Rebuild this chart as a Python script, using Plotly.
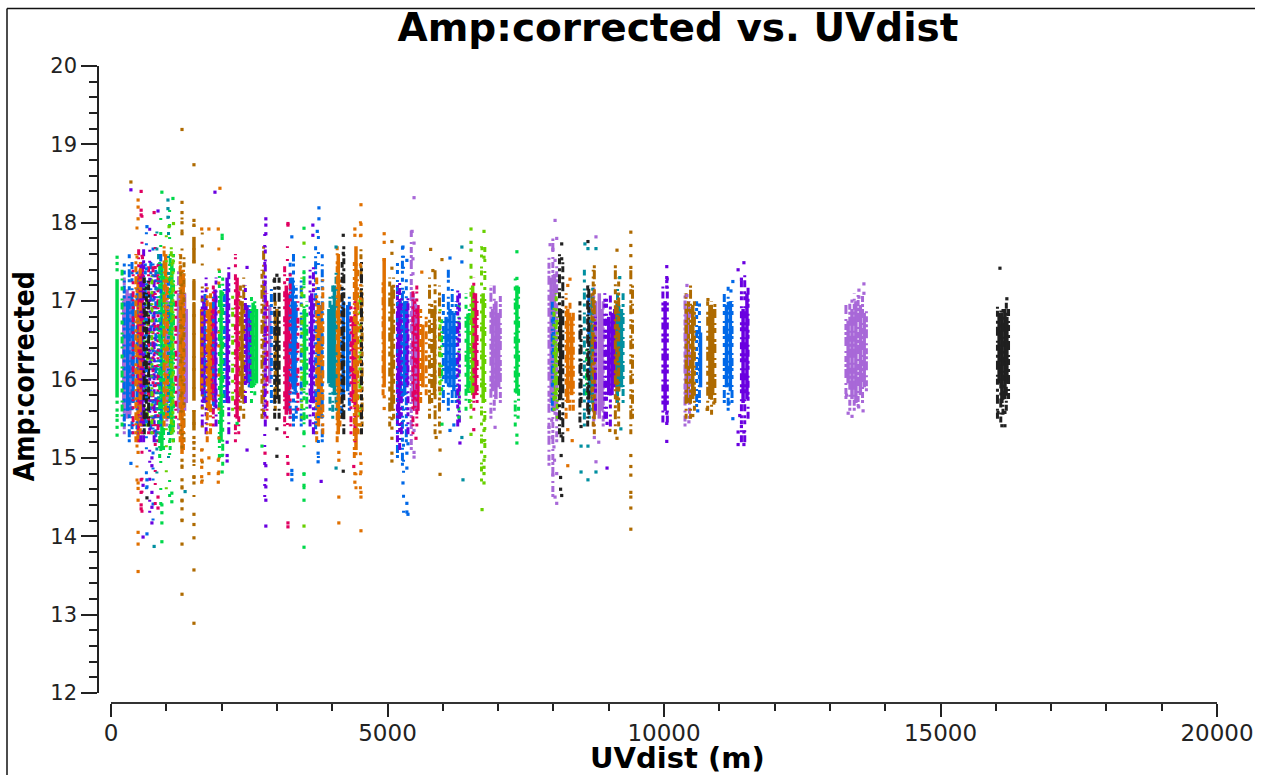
import plotly.graph_objects as go

# Solid runs of overlapping points: baseline UV distance, low amp, high amp
lavender_x = [230, 290, 340, 1000, 1030, 1060, 1220, 1250, 1330, 1360, 2790, 2870, 5460, 6900, 6960, 7010, 7960, 8020, 8760, 8830, 8880, 10400, 13330, 13400, 13470, 13550, 13620]
lavender_lo = [15.6, 15.5, 15.55, 15.8, 15.7, 15.75, 15.6, 15.6, 15.6, 15.7, 15.9, 15.95, 15.7, 15.85, 15.75, 15.9, 15.7, 15.6, 15.55, 15.5, 15.6, 15.7, 15.95, 15.75, 15.7, 15.8, 15.9]
lavender_hi = [17.0, 17.15, 17.1, 17.0, 16.9, 17.0, 17.1, 17.1, 17.1, 16.9, 17.2, 16.95, 17.1, 16.9, 17.0, 16.85, 17.3, 17.35, 17.0, 17.1, 16.9, 16.9, 16.75, 16.9, 17.0, 16.95, 16.85]

teal_x = [3940, 3990, 4040, 8680, 9180, 9230]
teal_lo = [15.95, 15.9, 15.8, 15.8, 15.85, 15.9]
teal_hi = [16.9, 16.95, 17.2, 16.7, 16.95, 16.9]

blue_x = [300, 400, 3280, 3330, 4200, 4280, 5230, 5310, 6060, 6130, 6200, 8000, 10660, 11130, 11200]
blue_lo = [15.6, 15.7, 15.9, 15.85, 15.8, 15.85, 15.75, 15.8, 15.95, 15.9, 15.85, 15.9, 15.9, 15.9, 15.85]
blue_hi = [17.0, 17.0, 17.3, 17.0, 17.0, 16.95, 17.0, 17.0, 16.8, 16.9, 16.85, 16.8, 16.6, 16.95, 17.0]

purple_x = [560, 1680, 1880, 2100, 2460, 2520, 3630, 5200, 5350, 9000, 9060, 9110, 10020, 11430, 11500]
purple_lo = [15.4, 15.7, 15.65, 15.7, 15.95, 15.9, 15.7, 15.55, 15.9, 15.8, 15.8, 15.9, 15.6, 15.7, 15.75]
purple_hi = [17.5, 17.0, 17.15, 17.3, 16.95, 16.9, 17.1, 17.0, 17.0, 16.8, 16.85, 16.9, 17.0, 16.9, 17.1]

magenta_x = [530, 1820, 2280, 3170, 3210, 4380, 5490, 5550, 6590]
magenta_lo = [15.6, 15.75, 15.5, 15.55, 15.6, 15.7, 15.6, 15.6, 15.8]
magenta_hi = [17.4, 16.9, 17.3, 17.2, 17.1, 16.8, 17.0, 16.95, 17.1]

green_x = [110, 920, 1100, 1990, 2570, 2630, 3500, 6455, 7340]
green_lo = [15.77, 15.12, 15.3, 15.22, 15.9, 15.95, 15.9, 15.83, 15.82]
green_hi = [17.28, 17.48, 17.5, 17.14, 16.98, 16.9, 16.9, 16.84, 17.2]

lime_x = [6540, 6730, 8040]
lime_lo = [15.8, 15.7, 15.75]
lime_hi = [17.2, 17.1, 16.5]

brown_x = [1500, 1500, 1500, 1500, 2370, 3000, 5080, 5850, 8700, 9150, 10440, 10520, 10830, 10880]
brown_lo = [15.73, 17.01, 17.48, 15.35, 15.75, 15.75, 15.6, 15.8, 15.7, 15.7, 15.7, 15.75, 15.75, 15.8]
brown_hi = [16.97, 17.26, 17.82, 15.61, 17.0, 16.9, 17.2, 16.9, 17.1, 17.0, 17.0, 16.95, 16.95, 16.9]

orange_x = [490, 990, 1284, 1640, 1770, 3750, 3800, 4110, 4430, 4940, 5640, 8260, 8330]
orange_lo = [15.2, 15.5, 15.05, 15.85, 15.6, 15.4, 15.5, 15.3, 15.1, 15.9, 15.9, 15.7, 15.8]
orange_hi = [17.3, 17.6, 17.35, 16.9, 16.9, 17.0, 16.95, 17.6, 17.7, 17.55, 16.7, 16.9, 16.8]

black_x = [3000, 8130, 16060, 16110, 16165, 16200]
black_lo = [15.75, 15.75, 15.95, 15.7, 15.75, 15.95]
black_hi = [16.8, 16.9, 16.85, 16.85, 16.9, 16.8]

# Speckled runs, where separate points and colours mix
spr_lavender_x = [240, 1010, 1220, 2760, 5430, 5510, 6870, 6930, 7040, 7920, 7990, 8060, 8730, 8900, 10380, 10460, 13290, 13360, 13440, 13510, 13590, 13660]
spr_lavender_lo = [15.3, 15.4, 15.3, 15.5, 15.1, 15.6, 15.5, 15.6, 15.7, 14.9, 14.5, 15.2, 15.4, 15.4, 15.4, 15.5, 15.75, 15.6, 15.6, 15.65, 15.7, 15.85]
spr_lavender_hi = [17.3, 17.3, 17.4, 17.4, 17.9, 17.1, 17.2, 17.2, 17.1, 17.6, 17.8, 17.5, 17.2, 17.0, 17.1, 17.0, 16.95, 17.0, 17.1, 17.1, 17.1, 16.9]
spr_teal_x = [3960, 4010, 4070, 8560, 8650, 8710, 9160, 9260, 860]
spr_teal_lo = [15.6, 15.5, 15.6, 15.4, 15.5, 15.6, 15.7, 15.7, 15.3]
spr_teal_hi = [17.1, 17.2, 17.4, 17.4, 17.0, 17.2, 17.2, 17.1, 17.6]
spr_blue_x = [240, 330, 380, 470, 620, 720, 810, 900, 1040, 1700, 1850, 2050, 2500, 2900, 3240, 3300, 3350, 3440, 3700, 3820, 4170, 4310, 5180, 5270, 5340, 6010, 6100, 6170, 6240, 7980, 8640, 10590, 10640, 11090, 11160, 11230]
spr_blue_lo = [15.4, 15.2, 15.3, 15.3, 15.4, 15.3, 15.2, 15.4, 15.5, 15.7, 15.6, 15.7, 15.9, 15.7, 15.5, 15.4, 15.5, 15.4, 15.3, 15.2, 15.5, 15.6, 15.0, 14.9, 15.2, 15.7, 15.6, 15.7, 15.7, 15.6, 15.7, 15.65, 15.7, 15.7, 15.6, 15.7]
spr_blue_hi = [17.5, 17.6, 17.5, 17.4, 17.5, 17.5, 17.4, 17.6, 17.3, 17.1, 17.1, 17.2, 17.0, 17.2, 17.5, 17.6, 17.2, 17.3, 17.7, 17.6, 17.2, 17.1, 17.5, 17.7, 17.3, 17.1, 17.4, 17.2, 17.0, 17.0, 17.1, 17.0, 16.9, 17.1, 17.2, 17.0]
spr_magenta_x = [400, 500, 570, 680, 760, 850, 1170, 1850, 2250, 2310, 2820, 3140, 3240, 3380, 4340, 4410, 5460, 5530, 6560, 6620]
spr_magenta_lo = [15.3, 15.2, 15.3, 15.3, 15.3, 15.2, 15.5, 15.4, 15.2, 15.3, 15.5, 15.3, 15.4, 15.6, 15.3, 15.2, 15.3, 15.4, 15.6, 15.7]
spr_magenta_hi = [17.4, 17.7, 17.6, 17.5, 17.5, 17.5, 17.2, 17.2, 17.6, 17.2, 17.1, 17.5, 17.4, 17.0, 17.0, 17.0, 17.2, 17.2, 17.3, 17.0]
spr_green_x = [200, 600, 880, 950, 1070, 1130, 1960, 2020, 2540, 2600, 3490, 3540, 5980, 6290, 6420, 6480, 7310, 7370, 8600]
spr_green_lo = [15.4, 15.3, 15.0, 15.1, 15.1, 15.2, 15.0, 14.9, 15.7, 15.8, 15.3, 15.5, 15.85, 15.6, 15.6, 15.7, 15.4, 15.6, 15.8]
spr_green_hi = [17.4, 17.3, 17.5, 17.4, 17.7, 17.6, 17.4, 17.3, 17.1, 17.0, 17.4, 17.0, 16.8, 17.0, 17.1, 17.0, 17.3, 17.2, 16.4]
spr_brown_x = [1260, 1320, 2340, 2400, 2730, 2760, 2970, 4520, 4540, 5040, 5110, 5760, 5800, 5860, 5940, 8720, 8740, 9120, 9180, 9400, 9430, 10400, 10480, 10550, 10790, 10860, 10920]
spr_brown_lo = [15.3, 15.2, 15.6, 15.5, 15.5, 15.55, 15.6, 15.3, 15.4, 15.4, 15.5, 15.5, 15.7, 15.3, 15.4, 15.4, 15.3, 15.3, 15.4, 15.3, 15.5, 15.5, 15.5, 15.6, 15.6, 15.55, 15.7]
spr_brown_hi = [17.6, 17.6, 17.2, 17.3, 17.4, 17.7, 17.0, 17.7, 17.2, 17.3, 17.3, 17.3, 17.0, 17.4, 17.2, 17.4, 17.5, 17.5, 17.3, 17.4, 17.2, 17.1, 17.2, 17.0, 17.0, 17.0, 17.0]
spr_purple_x = [540, 590, 780, 1650, 1720, 1900, 2130, 2430, 2790, 3600, 3660, 5180, 5220, 5250, 5370, 6270, 6300, 8760, 8930, 8960, 9030, 9980, 10060, 11400, 11460, 11520]
spr_purple_lo = [15.2, 15.2, 15.2, 15.4, 15.3, 15.4, 15.3, 15.7, 15.4, 15.4, 15.3, 15.2, 15.1, 15.3, 15.3, 15.4, 15.45, 15.6, 15.5, 15.5, 15.4, 15.45, 15.45, 15.2, 15.2, 15.5]
spr_purple_hi = [17.5, 17.7, 17.4, 17.2, 17.3, 17.3, 17.5, 17.2, 17.7, 17.4, 17.5, 17.2, 17.3, 17.05, 17.1, 17.2, 17.1, 16.8, 17.1, 17.05, 17.1, 17.2, 17.3, 17.3, 17.4, 17.2]
spr_lime_x = [660, 740, 1090, 1120, 2200, 3450, 4500, 5950, 6510, 6700, 6760, 8010, 8050, 8070]
spr_lime_lo = [15.4, 15.3, 15.3, 15.2, 15.6, 15.5, 15.4, 15.8, 15.5, 14.7, 15.0, 15.6, 15.8, 15.5]
spr_lime_hi = [17.3, 17.4, 17.8, 17.6, 17.1, 17.3, 17.1, 16.9, 17.5, 17.7, 17.7, 17.0, 17.1, 16.8]
spr_orange_x = [450, 530, 960, 1020, 1250, 1310, 1740, 1800, 3720, 3830, 4090, 4140, 4400, 4460, 4920, 5600, 5700, 8230, 8300, 8360]
spr_orange_lo = [15.2, 15.3, 15.4, 15.5, 15.2, 15.1, 15.2, 15.3, 15.2, 15.3, 15.2, 15.4, 15.0, 15.3, 15.8, 15.7, 15.8, 15.5, 15.6, 15.6]
spr_orange_hi = [17.6, 17.5, 17.7, 17.4, 17.6, 17.4, 17.2, 17.1, 17.3, 17.3, 17.7, 17.3, 17.5, 17.4, 17.3, 16.9, 16.8, 17.1, 17.0, 16.9]
spr_black_x = [600, 640, 680, 2960, 3040, 4180, 4210, 4530, 8110, 8170, 8480, 8500, 8620, 8640, 16030, 16090, 16130, 16190, 16230]
spr_black_lo = [15.3, 15.5, 15.4, 15.5, 15.5, 15.5, 15.3, 15.3, 15.3, 15.2, 15.45, 15.7, 15.4, 15.55, 15.5, 15.45, 15.55, 15.6, 15.75]
spr_black_hi = [17.3, 17.2, 17.3, 17.3, 17.3, 17.5, 17.7, 17.5, 17.6, 17.5, 17.0, 16.7, 17.2, 17.2, 16.95, 16.9, 16.9, 17.0, 16.9]

# Thin scatter reaching far from the main band
far_blue_x = [640, 760, 3750, 5290]
far_blue_lo = [14.6, 14.2, 15.0, 14.3]
far_blue_hi = [18.0, 17.9, 18.0, 17.7]
far_magenta_x = [560, 800, 3190]
far_magenta_lo = [14.3, 14.4, 15.0]
far_magenta_hi = [18.1, 17.9, 17.7]
far_purple_x = [700, 2780]
far_purple_lo = [14.3, 14.5]
far_purple_hi = [18.0, 17.9]
far_green_x = [900, 1060, 3490]
far_green_lo = [14.4, 14.5, 14.6]
far_green_hi = [18.1, 18.2, 17.8]
far_teal_x = [830, 1040]
far_teal_lo = [14.8, 15.0]
far_teal_hi = [18.0, 18.2]
far_lime_x = [1000]
far_lime_lo = [14.6]
far_lime_hi = [17.9]
far_orange_x = [470, 1950, 4430, 4510]
far_orange_lo = [14.7, 14.8, 14.6, 14.6]
far_orange_hi = [18.0, 17.9, 17.7, 18.1]
far_brown_x = [1284, 1500, 1650]
far_brown_lo = [14.2, 14.5, 14.7]
far_brown_hi = [18.2, 18.0, 17.9]

# Separate points above and below the main band
pt_brown_x = [1284, 1500, 360, 1284, 1500, 1500, 1284, 1500, 1500, 1500, 1284, 1284, 1284, 1284, 1284, 1284, 1284, 1500, 1500, 1500, 1500, 1500, 1500, 1500, 1284, 1284, 1284, 1284, 1500, 1500, 5080, 5080, 5080, 5080, 5080, 5080, 5080, 5080, 5780, 5985, 5950, 5950, 5880, 5950, 9400, 9400, 9400, 9400, 9400, 9400, 9400, 9400, 9400, 9400, 9400, 9150, 9150, 9020, 5820, 10520, 10795, 10900, 10780]
pt_brown_y = [19.19, 18.74, 18.52, 13.26, 12.89, 13.57, 13.9, 13.98, 14.15, 14.28, 14.2, 14.35, 14.46, 14.63, 14.72, 14.88, 14.97, 14.68, 14.76, 14.96, 15.03, 15.12, 15.19, 15.26, 18.26, 18.13, 18.0, 17.86, 18.03, 17.97, 17.76, 17.61, 17.42, 15.5, 15.38, 15.25, 15.06, 14.96, 17.66, 17.53, 14.79, 15.1, 15.26, 15.33, 17.88, 17.71, 17.58, 17.43, 14.09, 14.36, 14.5, 14.56, 14.78, 14.89, 15.03, 17.65, 15.25, 15.35, 17.39, 15.54, 17.02, 15.7, 15.62]
pt_orange_x = [490, 490, 490, 490, 490, 490, 490, 490, 490, 490, 1970, 1640, 1770, 1940, 1640, 1770, 1770, 1640, 1640, 1640, 1640, 1940, 1940, 1940, 4120, 4120, 4120, 4120, 4520, 4520, 4520, 4410, 4410, 4520, 4520, 4520, 4520, 4520, 4410, 4410, 4940, 4940, 4940, 4940, 4940, 5620, 8260, 8340, 8260, 8300, 8260]
pt_orange_y = [13.55, 13.9, 14.05, 14.46, 14.61, 14.68, 15.07, 18.29, 18.2, 18.05, 18.44, 17.92, 17.92, 17.92, 15.1, 15.0, 14.8, 14.97, 14.88, 14.76, 14.69, 14.97, 14.8, 14.69, 14.17, 14.5, 14.97, 15.07, 14.07, 14.5, 14.56, 14.69, 14.8, 14.82, 14.93, 18.23, 17.98, 17.84, 17.92, 17.84, 17.75, 17.53, 17.86, 15.78, 15.63, 17.37, 14.9, 15.22, 15.36, 17.28, 17.2]
pt_magenta_x = [545, 545, 545, 3200, 3200, 3200, 3200, 3200, 3200, 545, 545, 545, 545, 850, 850, 780, 4390, 2785, 5515, 6560]
pt_magenta_y = [18.4, 18.16, 18.1, 17.99, 17.97, 14.17, 14.12, 14.93, 14.79, 14.4, 14.35, 14.56, 14.72, 14.5, 14.36, 18.13, 14.89, 15.06, 15.25, 15.36]
pt_purple_x = [360, 1880, 850, 580, 740, 580, 740, 740, 740, 740, 2800, 2800, 2800, 2800, 2800, 2800, 2800, 2800, 3650, 3650, 3800, 2460, 2460, 2100, 2100, 2100, 6310, 8970, 8970, 10050, 10050, 10050, 10050, 10050, 10050, 10050, 10050, 11445, 11340, 11400, 11445, 11340, 11445, 11340, 11400, 11370]
pt_purple_y = [18.42, 18.39, 18.15, 13.99, 14.17, 14.65, 15.0, 14.9, 14.56, 14.37, 18.05, 17.97, 17.86, 14.13, 14.46, 14.63, 14.72, 14.9, 17.97, 17.84, 14.7, 15.1, 17.43, 15.03, 14.96, 15.2, 15.19, 14.87, 15.44, 17.44, 17.3, 17.25, 17.18, 15.21, 15.44, 15.57, 15.7, 17.49, 17.4, 17.28, 15.17, 15.17, 15.33, 15.33, 15.4, 15.54]
pt_blue_x = [650, 3760, 3760, 3730, 650, 3270, 3270, 3270, 3270, 3745, 3745, 360, 650, 650, 5280, 5350, 5350, 5370, 5280, 5350, 5350, 5370, 5350, 6130, 6345, 6130, 6200, 11245, 11210, 11245, 11175, 10610, 10640]
pt_blue_y = [14.03, 18.19, 18.05, 17.89, 17.95, 17.82, 14.72, 14.79, 14.84, 14.95, 15.06, 14.93, 14.72, 14.63, 17.69, 14.42, 14.31, 14.28, 14.68, 14.87, 15.06, 15.18, 17.52, 17.55, 17.5, 15.35, 15.42, 17.25, 17.13, 15.5, 15.7, 15.6, 16.95]
pt_green_x = [920, 3490, 3490, 3490, 3490, 3490, 920, 920, 920, 920, 1120, 2010, 2010, 2010, 2010, 2730, 1100, 1100, 2280, 110, 110, 110, 110, 110, 110, 110, 110, 110, 7340, 7340, 7340, 7340, 7360, 5985, 6290]
pt_green_y = [18.39, 17.93, 13.86, 14.46, 14.65, 14.79, 13.93, 14.17, 14.4, 14.3, 18.31, 17.84, 17.8, 14.82, 15.03, 15.15, 14.55, 14.44, 15.44, 17.56, 17.48, 17.4, 15.71, 15.61, 15.54, 15.48, 15.39, 15.29, 17.63, 17.29, 15.29, 15.19, 15.52, 15.43, 15.52]
pt_teal_x = [780, 1030, 1030, 1030, 4070, 4070, 1340, 6345, 6365, 6345, 8500, 8625, 8770, 8500, 8625, 8570, 8770, 8625, 9200, 9220]
pt_teal_y = [13.87, 18.29, 18.18, 18.07, 17.69, 14.87, 14.57, 17.69, 14.72, 15.26, 14.82, 14.72, 14.82, 15.15, 15.15, 17.73, 17.67, 17.67, 17.3, 15.37]
pt_black_x = [4200, 4200, 4200, 650, 3000, 3000, 3000, 2950, 3020, 8150, 8150, 8150, 8130, 8130, 8140, 8140, 8140, 8625, 8500, 16075, 16200, 16165, 16110, 16040, 16165]
pt_black_y = [17.84, 17.61, 14.83, 14.49, 15.02, 15.37, 17.33, 17.26, 17.17, 17.73, 17.54, 14.52, 14.6, 14.75, 15.03, 15.28, 15.5, 17.76, 15.4, 17.42, 17.03, 15.41, 15.41, 15.58, 15.58]
pt_lime_x = [3490, 1050, 1130, 3490, 6510, 6745, 6510, 6510, 6710, 6745, 6710, 6745, 6745, 6745, 6745, 6745, 6745, 6745, 6510]
pt_lime_y = [14.13, 17.95, 17.99, 17.74, 17.92, 17.89, 17.75, 17.65, 17.67, 17.56, 14.34, 14.68, 14.8, 14.88, 14.97, 15.22, 15.35, 15.48, 15.3]
pt_lavender_x = [5480, 5445, 5480, 5460, 5460, 5480, 5480, 5480, 6945, 8030, 8060, 7940, 7990, 8030, 8060, 8030, 7990, 8060, 8020, 8010, 7980, 7920, 7970, 8030, 8770, 8740, 8820, 8770, 10415, 10450, 10415, 13615, 13525, 13615, 13525, 13400, 13330, 13400, 13600, 13520, 13300]
pt_lavender_y = [18.32, 17.89, 17.74, 17.54, 17.35, 15.07, 15.01, 15.35, 15.39, 18.03, 17.8, 17.72, 17.66, 17.52, 14.42, 14.5, 14.78, 14.8, 14.97, 15.14, 15.26, 15.39, 15.48, 15.57, 17.82, 15.26, 15.2, 14.95, 17.2, 15.46, 17.07, 17.22, 17.14, 17.1, 17.05, 17.0, 15.57, 15.53, 15.6, 15.65, 15.8]

# Axis ticks and labels
y_ticks = [12, 13, 14, 15, 16, 17, 18, 19, 20]
x_ticks = [0, 5000, 10000, 15000, 20000]

COL = dict(lavender="#a868d8", teal="#008fa0", blue="#0068e8", purple="#6a00e0", magenta="#e00060",
           green="#00d84a", lime="#68d000", brown="#ae6a00", orange="#e07000", black="#202020")

fig = go.Figure()


def add_runs(xs, los, his, color, width=3.5, dash=None):
    ox, oy = [], []
    for x, lo, hi in zip(xs, los, his):
        ox += [x, x, None]
        oy += [lo, hi, None]
    fig.add_trace(go.Scatter(x=ox, y=oy, mode="lines", connectgaps=False, showlegend=False, hoverinfo="skip",
                             line=dict(color=COL[color], width=width, dash=dash)))


def add_pts(xs, ys, color):
    fig.add_trace(go.Scatter(x=xs, y=ys, mode="markers", showlegend=False,
                             marker=dict(color=COL[color], size=3.2, symbol="square", line=dict(width=0))))


add_runs(lavender_x, lavender_lo, lavender_hi, "lavender")
add_runs(teal_x, teal_lo, teal_hi, "teal")
add_runs(blue_x, blue_lo, blue_hi, "blue")
add_runs(purple_x, purple_lo, purple_hi, "purple")
add_runs(magenta_x, magenta_lo, magenta_hi, "magenta")
add_runs(green_x, green_lo, green_hi, "green")
add_runs(lime_x, lime_lo, lime_hi, "lime")
add_runs(brown_x, brown_lo, brown_hi, "brown")
add_runs(orange_x, orange_lo, orange_hi, "orange")
add_runs(black_x, black_lo, black_hi, "black")
add_runs(spr_lavender_x, spr_lavender_lo, spr_lavender_hi, "lavender", 3, "3px,2px,6px,3px,2px,5px,9px,2px")
add_runs(spr_teal_x, spr_teal_lo, spr_teal_hi, "teal", 3, "3px,4px,7px,2px,2px,6px")
add_runs(spr_blue_x, spr_blue_lo, spr_blue_hi, "blue", 3, "3px,2px,8px,3px,2px,6px,4px,4px")
add_runs(spr_magenta_x, spr_magenta_lo, spr_magenta_hi, "magenta", 3, "3px,5px,2px,2px,6px,7px")
add_runs(spr_green_x, spr_green_lo, spr_green_hi, "green", 3, "4px,6px,2px,3px,7px,2px,2px,8px")
add_runs(spr_brown_x, spr_brown_lo, spr_brown_hi, "brown", 3, "5px,3px,2px,5px,9px,2px,3px,6px")
add_runs(spr_purple_x, spr_purple_lo, spr_purple_hi, "purple", 3, "7px,3px,2px,6px,4px,2px,3px,4px")
add_runs(spr_lime_x, spr_lime_lo, spr_lime_hi, "lime", 3, "3px,7px,5px,2px,2px,9px")
add_runs(spr_orange_x, spr_orange_lo, spr_orange_hi, "orange", 3, "6px,2px,3px,6px,2px,3px,8px,4px")
add_runs(spr_black_x, spr_black_lo, spr_black_hi, "black", 3, "6px,2px,2px,5px,9px,3px,3px,4px")
add_runs(far_blue_x, far_blue_lo, far_blue_hi, "blue", 3, "2px,13px,3px,22px,2px,9px")
add_runs(far_magenta_x, far_magenta_lo, far_magenta_hi, "magenta", 3, "3px,17px,2px,11px,2px,24px")
add_runs(far_purple_x, far_purple_lo, far_purple_hi, "purple", 3, "2px,9px,2px,19px,3px,15px")
add_runs(far_green_x, far_green_lo, far_green_hi, "green", 3, "3px,12px,2px,25px,2px,10px")
add_runs(far_teal_x, far_teal_lo, far_teal_hi, "teal", 3, "2px,21px,3px,14px")
add_runs(far_lime_x, far_lime_lo, far_lime_hi, "lime", 3, "2px,15px,2px,23px")
add_runs(far_orange_x, far_orange_lo, far_orange_hi, "orange", 3, "3px,11px,2px,18px,3px,26px")
add_runs(far_brown_x, far_brown_lo, far_brown_hi, "brown", 3, "2px,16px,3px,10px,2px,21px")
add_pts(pt_lavender_x, pt_lavender_y, "lavender")
add_pts(pt_teal_x, pt_teal_y, "teal")
add_pts(pt_blue_x, pt_blue_y, "blue")
add_pts(pt_purple_x, pt_purple_y, "purple")
add_pts(pt_magenta_x, pt_magenta_y, "magenta")
add_pts(pt_green_x, pt_green_y, "green")
add_pts(pt_lime_x, pt_lime_y, "lime")
add_pts(pt_brown_x, pt_brown_y, "brown")
add_pts(pt_orange_x, pt_orange_y, "orange")
add_pts(pt_black_x, pt_black_y, "black")

W, H = 1265, 775
L, R, T, B = 98, 1217, 65.5, 703
X0, Y0 = 111, 693
TICKC = "#222222"
fig.update_layout(
    width=W, height=H, autosize=False, showlegend=False,
    paper_bgcolor="white", plot_bgcolor="white",
    margin=dict(l=L, r=W - R, t=T, b=H - B, pad=0),
    title=dict(text="<b>Amp:corrected vs. UVdist</b>", font=dict(family="DejaVu Sans", size=39, color="black"),
               x=678 / W, xanchor="center", y=1 - 27 / H, yanchor="middle"),
    xaxis=dict(domain=[(X0 - L) / (R - L), 1], range=[0, 20000], anchor="free", position=0,
               tickmode="array", tickvals=x_ticks, ticktext=[str(v) for v in x_ticks],
               ticks="outside", ticklen=13, tickwidth=1.5, tickcolor=TICKC, ticklabelstandoff=-3,
               showline=True, linecolor="#333333", linewidth=1.5, showgrid=False, zeroline=False,
               tickfont=dict(family="DejaVu Sans", size=23, color=TICKC), automargin=False,
               minor=dict(dtick=1000, tick0=0, ticks="outside", ticklen=7, tickwidth=1.5, tickcolor=TICKC, showgrid=False)),
    yaxis=dict(domain=[(B - Y0) / (B - T), 1], range=[12, 20], anchor="free", position=0,
               tickmode="array", tickvals=y_ticks, ticktext=[str(v) for v in y_ticks],
               ticks="outside", ticklen=16, tickwidth=1.5, tickcolor=TICKC,
               showline=True, linecolor=TICKC, linewidth=1.5, showgrid=False, zeroline=False,
               tickfont=dict(family="DejaVu Sans", size=21, color=TICKC), automargin=False,
               minor=dict(dtick=0.2, tick0=12, ticks="outside", ticklen=8, tickwidth=1.5, tickcolor=TICKC, showgrid=False)),
    annotations=[dict(text="<b>Amp:corrected</b>", xref="paper", yref="paper",
                      x=(24 - L) / (R - L), y=(B - 376) / (B - T), xanchor="center", yanchor="middle",
                      textangle=-90, showarrow=False,
                      font=dict(family="DejaVu Sans Condensed, Liberation Sans", size=28, color="black")),
                 dict(text="<b>UVdist (m)</b>", xref="paper", yref="paper",
                      x=(677 - L) / (R - L), y=(B - 758) / (B - T), xanchor="center", yanchor="middle",
                      showarrow=False, font=dict(family="DejaVu Sans", size=29, color="black"))],
    shapes=[dict(type="line", xref="paper", yref="paper", x0=(7 - L) / (R - L), x1=(7 - L) / (R - L),
                 y0=(B - 8) / (B - T), y1=(B - 775) / (B - T), line=dict(color="#111111", width=1.5)),
            dict(type="line", xref="paper", yref="paper", x0=(7 - L) / (R - L), x1=(1255 - L) / (R - L),
                 y0=(B - 8) / (B - T), y1=(B - 8) / (B - T), line=dict(color="#111111", width=1.5))],
)
fig.write_html("out.html", config=dict(displayModeBar=False),
               post_script="document.body.style.margin='0';document.documentElement.style.overflow='hidden';")
